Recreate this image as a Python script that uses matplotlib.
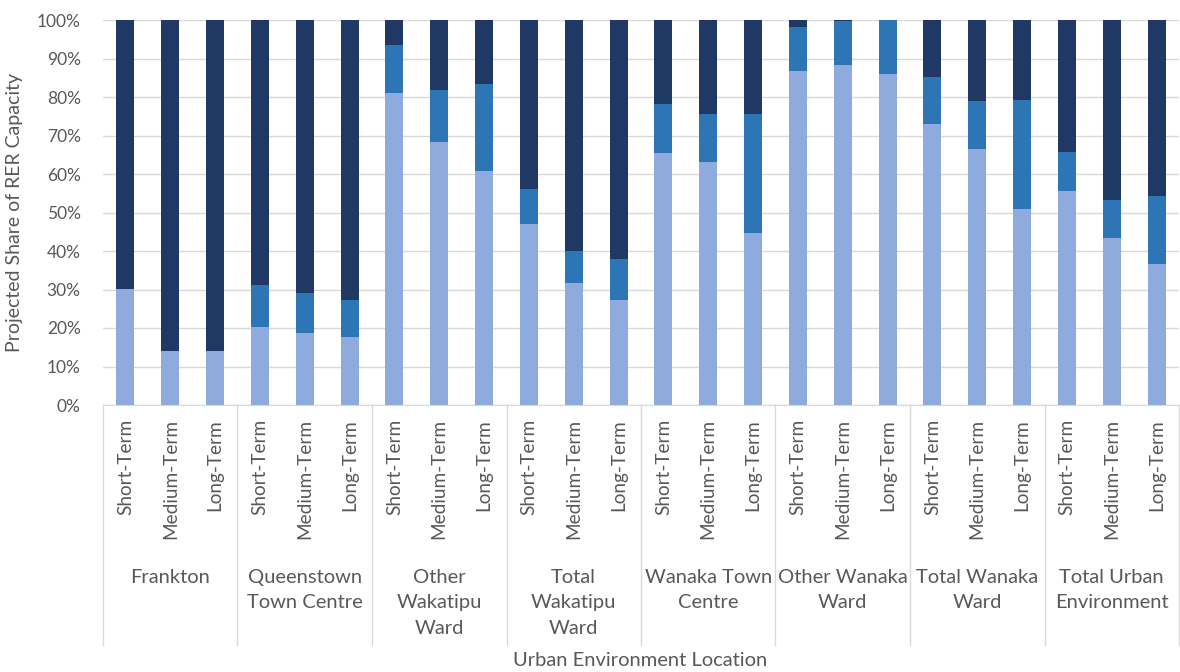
import matplotlib
matplotlib.use("Agg")
import matplotlib.pyplot as plt
from matplotlib.lines import Line2D
from matplotlib.ticker import PercentFormatter
import numpy as np

plt.rcParams["font.family"] = ["Lato", "DejaVu Sans"]

# Locations and time horizons
groups = [
    "Frankton",
    "Queenstown\nTown Centre",
    "Other\nWakatipu\nWard",
    "Total\nWakatipu\nWard",
    "Wanaka Town\nCentre",
    "Other Wanaka\nWard",
    "Total Wanaka\nWard",
    "Total Urban\nEnvironment",
]
terms = ["Short-Term", "Medium-Term", "Long-Term"]

# Share of RER capacity (%) per bar, bottom to top
share_low = [30.1, 14.0, 14.0, 20.2, 18.8, 17.7, 81.0, 68.3, 60.7, 47.0, 31.8, 27.2,
             65.4, 63.0, 44.6, 86.8, 88.3, 85.9, 72.9, 66.4, 50.8, 55.5, 43.5, 36.7]
share_mid = [0.0, 0.0, 0.0, 11.0, 10.4, 9.7, 12.5, 13.5, 22.6, 9.2, 8.3, 10.6,
             12.9, 12.5, 30.9, 11.4, 11.4, 14.1, 12.3, 12.5, 28.4, 10.2, 9.7, 17.5]
share_top = [69.9, 86.0, 86.0, 68.8, 70.8, 72.6, 6.5, 18.2, 16.7, 43.8, 59.9, 62.2,
             21.7, 24.5, 24.5, 1.8, 0.3, 0.0, 14.8, 21.1, 20.8, 34.3, 46.8, 45.8]

colors = ["#8FAADC", "#2E75B6", "#203864"]
text_col = "#595959"
grid_col = "#D9D9D9"

W, H = 1180, 672
fig = plt.figure(figsize=(W / 100, H / 100), dpi=100)
ax = fig.add_axes([103 / W, (H - 405) / H, (1179 - 103) / W, (405 - 20) / H])

x = np.arange(len(share_low))
low = np.array(share_low)
mid = np.array(share_mid)
top = np.array(share_top)
ax.bar(x, low, width=0.4, color=colors[0], zorder=3)
ax.bar(x, mid, width=0.4, bottom=low, color=colors[1], zorder=3)
ax.bar(x, top, width=0.4, bottom=low + mid, color=colors[2], zorder=3)

ax.set_xlim(-0.5, len(x) - 0.5)
ax.set_ylim(0, 100)
ax.set_yticks(np.arange(0, 101, 10))
ax.yaxis.set_major_formatter(PercentFormatter(decimals=0))
ax.grid(axis="y", color=grid_col, linewidth=1, zorder=0)
for s in ["top", "right", "left"]:
    ax.spines[s].set_visible(False)
ax.spines["bottom"].set_color(grid_col)
ax.tick_params(axis="y", length=0, pad=16, labelsize=12.5, labelcolor=text_col)

ax.set_xticks(x)
ax.set_xticklabels(terms * len(groups), rotation=90, va="top", ha="center")
ax.tick_params(axis="x", length=0, pad=10, labelsize=13.7, labelcolor=text_col)

# group labels and separators under the axis
trans = ax.get_xaxis_transform()
px = 1 / 385  # axes fraction per pixel
for i, name in enumerate(groups):
    ax.text(3 * i + 1, -(569 - 405) * px, name, transform=trans, ha="center",
            va="top", fontsize=14.5, color=text_col, linespacing=1.6)
for b in np.arange(-0.5, len(x), 3):
    ax.add_line(Line2D([b, b], [0, -(645 - 405) * px], transform=trans,
                       color=grid_col, linewidth=1, clip_on=False))

fig.text(640 / W, 1 - 660 / H, "Urban Environment Location", ha="center",
         va="center", fontsize=14.5, color=text_col)
fig.text(15 / W, 1 - 212 / H, "Projected Share of RER Capacity", rotation=90,
         ha="center", va="center", fontsize=14, color=text_col)

fig.savefig("out.png", dpi=100)
